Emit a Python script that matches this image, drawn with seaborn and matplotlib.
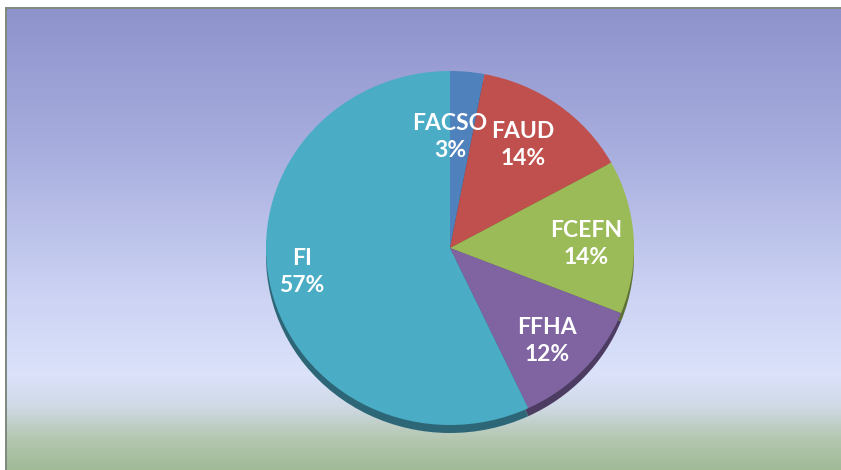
import numpy as np
import matplotlib
matplotlib.use("Agg")
import matplotlib.pyplot as plt
import seaborn as sns
from matplotlib.colors import to_rgb

# ---- data ----
categories = ["FACSO", "FAUD", "FCEFN", "FFHA", "FI"]
shares = [3, 14, 14, 12, 57]
pct_labels = ["3%", "14%", "14%", "12%", "57%"]
colors = ["#4F81BD", "#C0504D", "#9BBB59", "#8064A2", "#4BACC6"]

sns.set_theme(style="white")
plt.rcParams["font.family"] = ["Lato", "DejaVu Sans"]

W, H = 841, 470
fig = plt.figure(figsize=(W / 100, H / 100), dpi=100)

# ---- background gradient ----
bg = fig.add_axes([0, 0, 1, 1])
ys = np.arange(H)
stops_y = [0, 150, 300, 375, 405, 440, 470]
stops_c = np.array([
    (141, 145, 203),
    (168, 174, 222),
    (205, 212, 244),
    (219, 226, 250),
    (208, 218, 230),
    (178, 198, 174),
    (160, 186, 150),
]) / 255.0
grad = np.stack([np.interp(ys, stops_y, stops_c[:, k]) for k in range(3)], axis=-1)
img = np.repeat(grad[:, None, :], W, axis=1)
img[:7, :, :] = 1.0
img[:, :5, :] = 1.0
img[7:9, 5:, :] = np.array([128, 138, 128]) / 255.0
img[7:, 5:7, :] = np.array([128, 138, 128]) / 255.0
bg.imshow(img, extent=(0, W, H, 0), aspect="auto", interpolation="nearest")
bg.set_xlim(0, W)
bg.set_ylim(H, 0)
bg.axis("off")

# pie geometry (pixels, top-origin)
cx, cy = 450, 248
rx, ry = 184, 177
rim = 8


def pie_axes(offset):
    left = (cx - rx) / W
    bottom = 1 - (cy + ry + offset) / H
    return fig.add_axes([left, bottom, 2 * rx / W, 2 * ry / H])


def darker(c, f=0.6):
    r, g, b = to_rgb(c)
    return (r * f, g * f, b * f)


# rim (3D thickness)
ax_rim = pie_axes(rim)
ax_rim.pie(shares, colors=[darker(c) for c in colors], startangle=90,
           counterclock=False, radius=1,
           wedgeprops=dict(linewidth=0))
ax_rim.set_aspect("auto")
ax_rim.set_xlim(-1, 1)
ax_rim.set_ylim(-1, 1)
ax_rim.axis("off")

# top face
ax = pie_axes(0)
ax.pie(shares, colors=colors, startangle=90, counterclock=False, radius=1,
       wedgeprops=dict(linewidth=0))
ax.set_aspect("auto")
ax.set_xlim(-1, 1)
ax.set_ylim(-1, 1)
ax.axis("off")

# labels (pixel positions of label centres)
label_pos = [(450, 137), (523, 145), (586, 244), (547, 341), (302, 272)]
for name, pct, (px, py) in zip(categories, pct_labels, label_pos):
    fig.text(px / W, 1 - py / H, f"{name}\n{pct}", ha="center", va="center",
             color="white", fontsize=16.5, fontweight="bold",
             linespacing=1.4, zorder=10)

fig.savefig("out.png", dpi=100)
